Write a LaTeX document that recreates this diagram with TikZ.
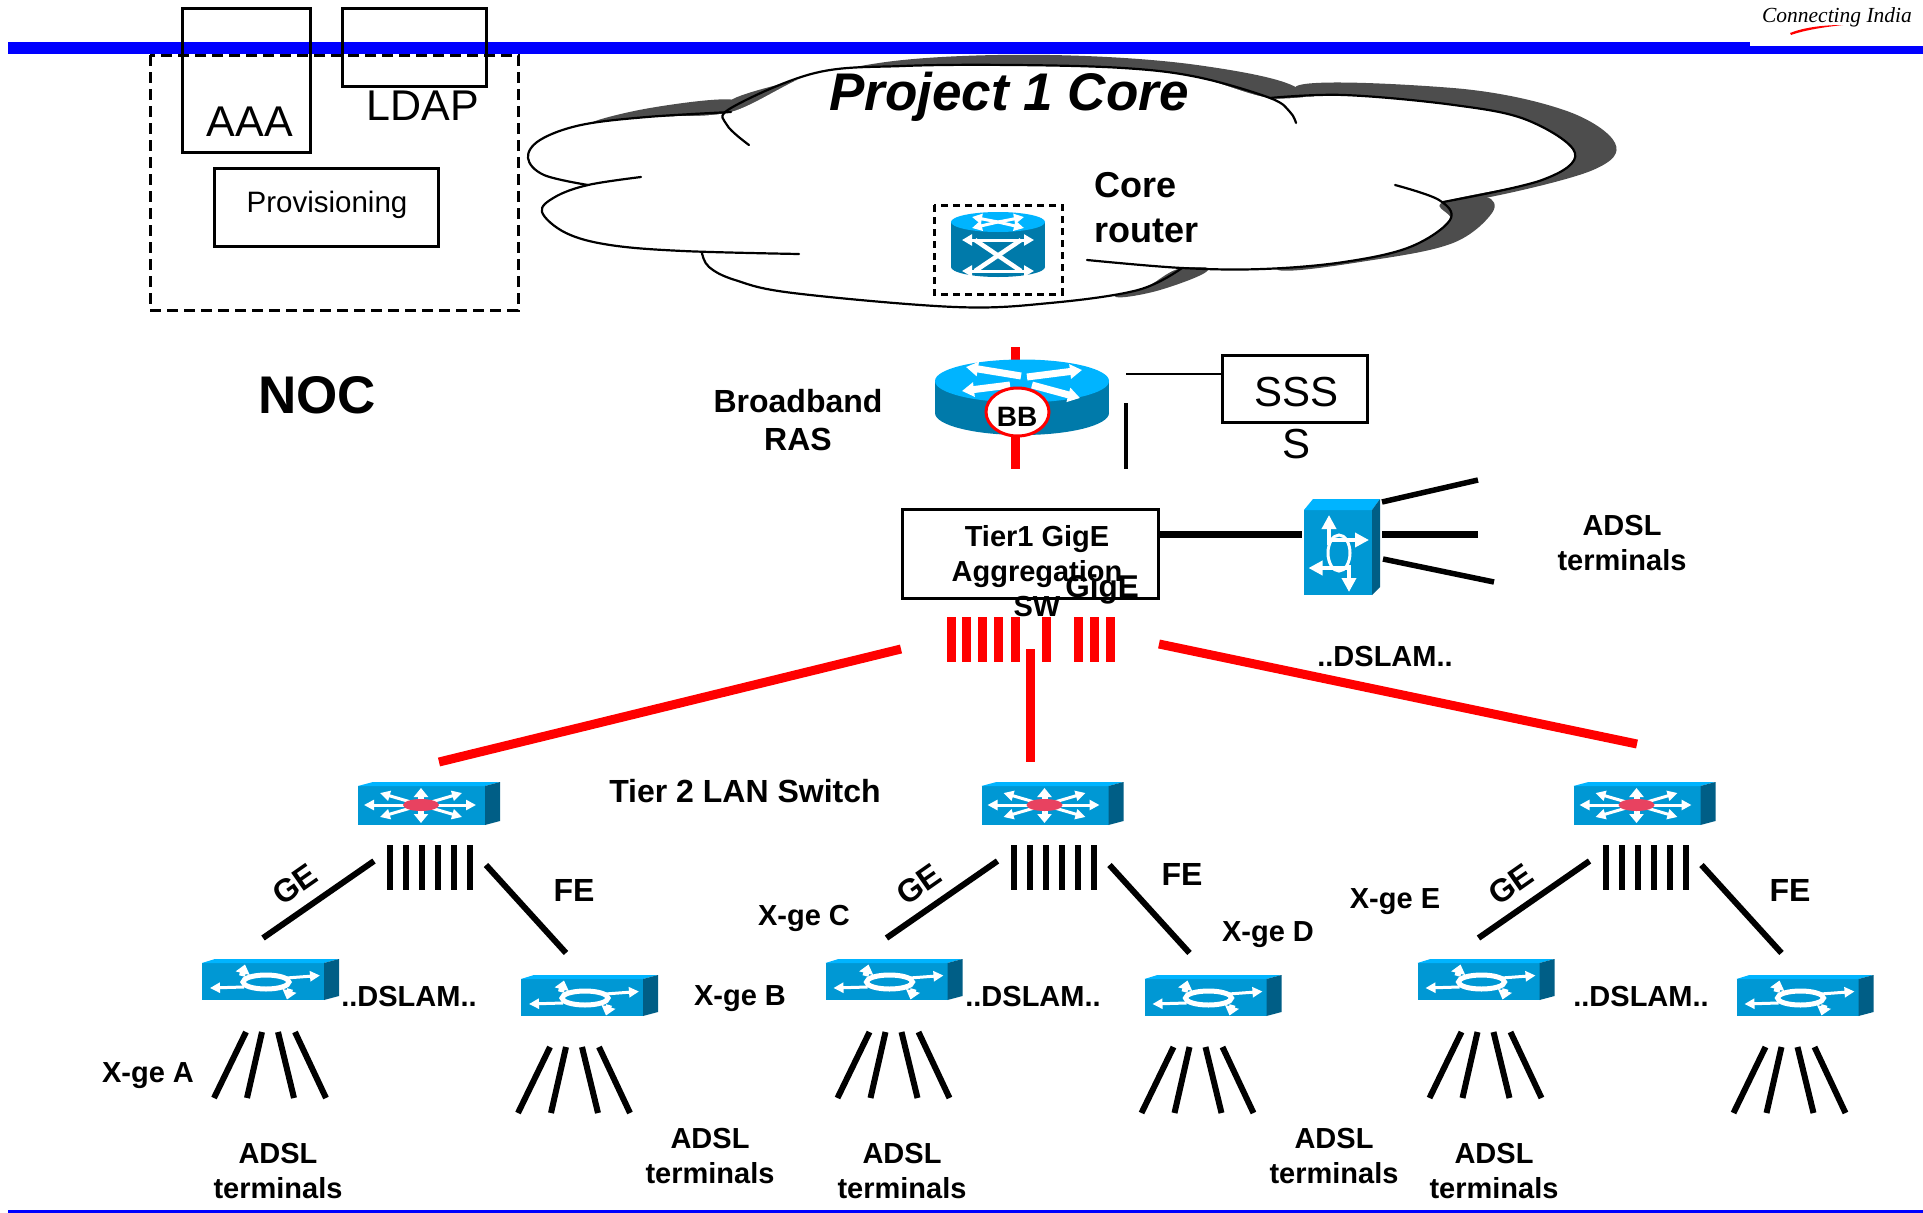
\documentclass[tikz,border=0pt]{standalone}
\usepackage{fontspec}
\setmainfont{Liberation Sans}
\newfontfamily\logofont{Liberation Serif}
\usetikzlibrary{arrows.meta,shapes.geometric}
\definecolor{ibar}{RGB}{0,0,255}
\definecolor{cfront}{RGB}{0,152,212}
\definecolor{ctop}{RGB}{0,180,255}
\definecolor{cside}{RGB}{0,94,134}
\definecolor{cbody}{RGB}{0,122,170}
\definecolor{cshade}{RGB}{77,77,77}
\definecolor{hub}{RGB}{232,66,96}
\tikzset{
  x=1pt,y=-1pt,
  lab/.style={font=\fontsize{29}{35}\selectfont\bfseries,align=center,inner sep=0pt},
  big lab/.style={font=\fontsize{32}{38.5}\selectfont\bfseries,align=center,inner sep=0pt},
  thin lab/.style={font=\fontsize{42}{50}\selectfont,inner sep=0pt,align=center},
  boxn/.style={draw=black,line width=3pt,inner sep=0pt,outer sep=0pt,anchor=north west},
  redln/.style={draw=red,line width=9pt},
  blkln/.style={draw=black,line width=6pt},
  wa/.style={draw=white,line width=3pt,-{Triangle[length=10pt,width=10pt]}},
  wab/.style={draw=white,line width=6pt,-{Triangle[length=9pt,width=14pt]}},
  cloudln/.style={draw=black,line width=2.2pt,line cap=round},
  dashbox/.style={draw=black,line width=3pt,dash pattern=on 11pt off 6pt},
  dslamsmall/.pic={
    \fill[cfront] (0,0) rectangle (122,37);
    \fill[ctop] (0,0) -- (13,-4) -- (137,-4) -- (122,0) -- cycle;
    \fill[cside] (122,0) -- (137,-4) -- (137,33) -- (122,37) -- cycle;
    \draw[wa] (84,15) -- (118,12.5);
    \draw[wa] (42,24) -- (8,25);
    \draw[wab] (40,13) -- (43,1.5);
    \draw[wab] (88,26) -- (85,36.5);
    \draw[white,line width=5pt] (64,19) ellipse [x radius=23,y radius=7];
  },
  tierswitch/.pic={
    \fill[cfront] (0,0) rectangle (127,39);
    \fill[ctop] (0,0) -- (15,-4) -- (142,-4) -- (127,0) -- cycle;
    \fill[cside] (127,0) -- (142,-4) -- (142,35) -- (127,39) -- cycle;
    \foreach \tx/\ty in {6/19,118/19,22/7,104/7,22/31,104/31}
      \draw[wa] (63,19) -- (\tx,\ty);
    \draw[wab] (63,19) -- (63,2);
    \draw[wab] (63,19) -- (63,37);
    \fill[hub] (63,19) ellipse [x radius=18,y radius=6];
  },
  tree/.pic={
    \pic at (0,0) {tierswitch};
    \foreach \bx in {32,48,64,80,96,112} {
      \coordinate (-b\bx a) at (\bx,59);
      \coordinate (-b\bx b) at (\bx,104);
      \draw[blkln] (-b\bx a) -- (-b\bx b);
    }
    \coordinate (-ge1) at (16,75);  \coordinate (-ge2) at (-95,152);
    \coordinate (-fe1) at (128,79); \coordinate (-fe2) at (208,167);
    \draw[blkln] (-ge1) -- (-ge2);
    \draw[blkln] (-fe1) -- (-fe2);
    \pic at (-156,177) {dslamsmall};
    \pic at (163,193) {dslamsmall};
    \foreach \ta/\bb [count=\i] in {-112/-144,-96/-111,-80/-64,-63/-32} {
      \coordinate (-la\i) at (\ta,246);
      \coordinate (-lb\i) at (\bb,312);
      \coordinate (-ra\i) at (\ta+304,261);
      \coordinate (-rb\i) at (\bb+304,327);
      \draw[blkln] (-la\i) -- (-lb\i);
      \draw[blkln] (-ra\i) -- (-rb\i);
    }
  }
}
\begin{document}
\begin{tikzpicture}
\useasboundingbox (0,0) rectangle (1923,1213);
% cloud shadow
\fill[cshade] plot[smooth cycle,tension=0.6] coordinates {(588,125)(650,108)(735,100)(735,125)(650,130)};
\fill[cshade] plot[smooth cycle,tension=0.6] coordinates {(728,104)(793,81)(903,60)(1050,55)(1197,65)(1300,90)(1270,130)(1000,120)(800,120)};
\fill[cshade] plot[smooth cycle,tension=0.6] coordinates {(1295,88)(1453,88)(1564,110)(1615,143)(1593,170)(1490,197)(1440,200)(1450,150)};
\fill[cshade] plot[smooth cycle,tension=0.6] coordinates {(1443,202)(1486,197)(1492,213)(1453,243)(1373,260)(1278,270)(1300,240)(1400,220)};
\fill[cshade] plot[smooth cycle,tension=0.6] coordinates {(1170,262)(1208,270)(1160,290)(1116,297)(1130,280)};
% cloud body
\fill[white] plot[smooth cycle,tension=0.5] coordinates {(731,112)(815,73)(903,66)(1013,65)(1123,68)(1197,77)(1270,98)(1344,95)(1454,105)(1527,120)(1575,153)(1542,180)(1443,202)(1450,220)(1410,247)(1344,262)(1263,269)(1182,268)(1138,290)(1050,303)(955,307)(793,293)(735,280)(709,267)(702,253)(610,245)(566,233)(542,212)(555,197)(588,185)(544,175)(528,158)(540,140)(581,125)(647,117)};
\draw[cloudln] plot[smooth,tension=0.6] coordinates {(749,145)(727,125)(731,108)(815,73)(903,66)(1013,65)(1123,68)(1197,77)(1270,98)(1290,112)(1296,123)};
\draw[cloudln] plot[smooth,tension=0.6] coordinates {(1270,98)(1344,95)(1454,105)(1527,120)(1575,153)(1542,180)(1443,202)};
\draw[cloudln] plot[smooth,tension=0.6] coordinates {(1395,185)(1439,200)(1450,220)(1410,247)(1344,262)(1263,269)(1182,268)(1087,260)};
\draw[cloudln] plot[smooth,tension=0.6] coordinates {(702,253)(709,267)(735,280)(793,293)(955,307)(1050,303)(1138,290)(1182,268)};
\draw[cloudln] plot[smooth,tension=0.6] coordinates {(641,177)(588,185)(555,197)(542,212)(566,233)(610,245)(683,251)(799,254)};
\draw[cloudln] plot[smooth,tension=0.6] coordinates {(588,185)(544,175)(528,158)(540,140)(581,125)(647,117)(731,112)};
% header / footer rules
\fill[ibar] (8,42) rectangle (1923,54);
\fill[white] (1750,0) rectangle (1923,46);
\fill[ibar] (8,1210) rectangle (1923,1213);
% logo
\node[inner sep=0pt] (logo) at (1837,17) {\logofont\itshape\fontsize{21.5}{26}\selectfont Connecting India};
\fill[red] (1790,33) .. controls (1805,27) and (1825,25) .. (1843,25) .. controls (1825,27) and (1805,30) .. (1791,35) -- cycle;
% NOC
\draw[dashbox] (150,55) rectangle (518,310);
\node[boxn,minimum width=128pt,minimum height=144pt] (aaa) at (182,8) {};
\node[boxn,minimum width=144pt,minimum height=78pt] (ldap) at (342,8) {};
\node[boxn,minimum width=224pt,minimum height=78pt] (prov) at (214,168) {};
\node[thin lab,font=\fontsize{43}{50}\selectfont] (aaat) at (250,122) {AAA};
\node[thin lab,font=\fontsize{43}{50}\selectfont] (ldapt) at (423,106) {LDAP};
\node[thin lab,font=\fontsize{29.5}{35}\selectfont] (provt) at (327,205) {Provisioning};
\node[lab,font=\fontsize{53}{60}\selectfont\bfseries] (noc) at (317,395) {NOC};
% core
\node[lab,font=\fontsize{53}{60}\selectfont\bfseries\itshape] (proj) at (1009,97) {Project 1 Core};
\node[lab,font=\fontsize{36}{45}\selectfont\bfseries,align=left,anchor=west] (corer) at (1094,208) {Core\\router};
\draw[dashbox,dash pattern=on 7pt off 5pt] (934,205) rectangle (1062,294);
\fill[cbody] (951,222) rectangle (1045,267);
\fill[cbody] (998,267) ellipse [x radius=47,y radius=10];
\fill[ctop] (998,222) ellipse [x radius=47,y radius=10];
\foreach \dx/\dy in {-26/-5,26/-5,-26/6,26/6} \draw[wa] (998,222) -- ++(\dx,\dy);
\draw[white,line width=4.5pt] (975,240) -- (1021,271);
\draw[white,line width=4.5pt] (1021,240) -- (975,271);
\draw[wa,{Triangle[length=10pt,width=11pt]}-{Triangle[length=10pt,width=11pt]}] (962,240) -- (1034,240);
\draw[wa,{Triangle[length=10pt,width=11pt]}-{Triangle[length=10pt,width=11pt]}] (962,271) -- (1034,271);
% BRAS
\coordinate (rt) at (1015,347); \coordinate (rb) at (1015,469);
\draw[redln] (rt) -- (rb);
\fill[cbody] (935,381) rectangle (1109,413);
\fill[cbody] (1022,413) ellipse [x radius=87,y radius=22];
\fill[ctop] (1022,381) ellipse [x radius=87,y radius=21.5];
\draw[white,line width=7pt,-{Triangle[length=12pt,width=14pt]}] (1021,376) -- (966,367);
\draw[white,line width=7pt,-{Triangle[length=12pt,width=14pt]}] (1027,377) -- (1082,370);
\draw[white,line width=7pt,-{Triangle[length=12pt,width=14pt]}] (1010,385) -- (962,391);
\draw[white,line width=7pt,-{Triangle[length=12pt,width=14pt]}] (1032,385) -- (1080,398);
\node[draw=red,fill=white,line width=3pt,ellipse,minimum width=63pt,minimum height=48pt,inner sep=0pt] (bb) at (1017.5,412) {};
\node[lab,font=\fontsize{28}{34}\selectfont\bfseries] (bbt) at (1017,417) {BB};
\node[big lab] (bras) at (798,420) {Broadband\\RAS};
\node[boxn,minimum width=145pt,minimum height=67pt] (sss) at (1222,355) {};
\node[thin lab,font=\fontsize{42}{52}\selectfont] (ssst) at (1296.5,418) {SSS\\S};
\coordinate (blk1) at (1126,374); \coordinate (blk2) at (1126,403); \coordinate (blk3) at (1126,469);
\draw[black,line width=2.5pt] (blk1) -- (sss.west |- blk1);
\draw[black,line width=4pt] (blk2) -- (blk3);
% tier 1
\node[boxn,minimum width=256pt,minimum height=89pt] (tier1) at (902,509) {};
\node[lab,font=\fontsize{29}{35}\selectfont\bfseries] (tier1t) at (1037,571) {Tier1 GigE\\Aggregation\\SW};
\node[lab,font=\fontsize{31.5}{36}\selectfont\bfseries] (gige) at (1102,589) {GigE};
\foreach \bx [count=\ri] in {951,966.5,982.5,998,1015,1046.5,1078,1094,1110.5} {
  \coordinate (rbar\ri a) at (\bx,617);
  \coordinate (rbar\ri b) at (\bx,662);
  \draw[redln] (rbar\ri a) -- (rbar\ri b);
}
\coordinate (rlA) at (901,649);  \coordinate (rlB) at (439,762);
\coordinate (rmA) at (1030.5,649); \coordinate (rmB) at (1030.5,762);
\coordinate (rrA) at (1159,644); \coordinate (rrB) at (1637,744);
\draw[redln] (rlA) -- (rlB);
\draw[redln] (rmA) -- (rmB);
\draw[redln] (rrA) -- (rrB);
\node[lab] (dsl0) at (1385,657) {..DSLAM..};
% right DSLAM
\fill[cfront] (1304,510) rectangle (1372,595);
\fill[ctop] (1304,510) -- (1313,499) -- (1380,499) -- (1372,510) -- cycle;
\fill[cside] (1372,510) -- (1380,499) -- (1380,587) -- (1372,595) -- cycle;
\draw[wa,line width=3.5pt,-{Triangle[length=14pt,width=14pt]}] (1329,545) -- (1329,515);
\draw[wa,line width=3.5pt,-{Triangle[length=14pt,width=14pt]}] (1329,540) -- (1369,540);
\draw[wa,line width=3.5pt,-{Triangle[length=14pt,width=14pt]}] (1349,568) -- (1308.5,568);
\draw[wa,line width=3.5pt,-{Triangle[length=14pt,width=14pt]}] (1349,565) -- (1349,592);
\draw[white,line width=3pt] (1339,553) ellipse [x radius=11,y radius=18];
\coordinate (pA) at (1302,534); \coordinate (pB) at (1382,534); \coordinate (pC) at (1478,534);
\draw[black,line width=7pt] (tier1.east |- pA) -- (pA);
\draw[black,line width=7pt] (pB) -- (pC);
\coordinate (pD) at (1382,502); \coordinate (pE) at (1478,480);
\coordinate (pF) at (1383,559); \coordinate (pG) at (1494,582);
\draw[black,line width=5.5pt] (pD) -- (pE);
\draw[black,line width=5.5pt] (pF) -- (pG);
\node[lab] (ads0) at (1622,543) {ADSL\\terminals};
% tier 2 trees
\pic (t1) at (358,786) {tree};
\pic (t2) at (981.5,786) {tree};
\pic (t3) at (1573.5,786) {tree};
\node[big lab] (tier2) at (745,791) {Tier 2 LAN Switch};
\foreach \nm/\gx/\fx/\fy/\dx in {a/295/574/890/409,b/919/1182/874/1033,c/1511/1790/890/1641} {
  \node[big lab,rotate=35] (ge\nm) at (\gx,884) {GE};
  \node[big lab] (fe\nm) at (\fx,\fy) {FE};
  \node[lab] (ds\nm) at (\dx,996.5) {..DSLAM..};
}
\foreach \nm/\ax/\ay in {a/278/1171,b/710/1156,c/902/1171,d/1334/1156,e/1494/1171} {
  \node[lab] (ad\nm) at (\ax,\ay) {ADSL\\terminals};
}
\node[lab] (xa) at (148,1076) {X-ge A};
\node[lab] (xb) at (740,999) {X-ge B};
\node[lab] (xc) at (804,918) {X-ge C};
\node[lab] (xd) at (1268,935) {X-ge D};
\node[lab] (xe) at (1395,902) {X-ge E};
\end{tikzpicture}
\end{document}
